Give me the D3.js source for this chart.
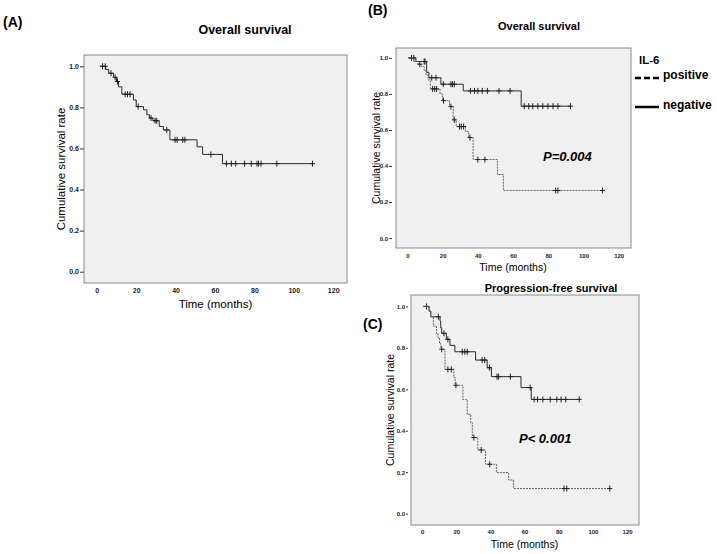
<!DOCTYPE html>
<html>
<head>
<meta charset="utf-8">
<script src="https://cdn.jsdelivr.net/npm/d3@7"></script>
<style>
  body { margin: 0; background: #fff; }
  svg text { font-family: Arial, "Liberation Sans", sans-serif; }
</style>
</head>
<body>
<svg id="chart" width="717" height="554"></svg>
<script>
// Panel A - overall survival, all patients
const timeA = [1.5, 4.5, 6, 8.5, 10, 11, 12.7, 18.6, 20, 23.7, 25.4, 26.7, 28.5, 31.7, 33.8, 37.1, 50.9, 53.7, 63.8];
const survA = [1, 0.985, 0.966, 0.946, 0.926, 0.90, 0.864, 0.836, 0.804, 0.788, 0.764, 0.748, 0.735, 0.707, 0.69, 0.642, 0.608, 0.571, 0.526];
const endA = 109.5;
const censorA = [2.9, 4.3, 7.2, 9.3, 10.5, 14.4, 15.6, 16.9, 21, 27.5, 29.6, 30.4, 35.5, 39.7, 40.8, 43.6, 44.7, 57.9, 65.8, 68.3, 70.5, 75, 78.4, 81.3, 82.1, 83.4, 91.4, 109.5];

// Panel B - overall survival by IL-6
const timeBneg = [0.4, 4.8, 10.9, 12.2, 19, 31.7, 64.6];
const survBneg = [1, 0.98, 0.92, 0.89, 0.854, 0.817, 0.732];
const endBneg = 92.6;
const censorBneg = [2.3, 3.6, 9.5, 10, 13.8, 16.2, 20.4, 24.7, 25.6, 26.6, 35.8, 38.1, 40, 42.5, 45.4, 52, 58.3, 66.4, 68.9, 71.2, 74.1, 76.9, 79.8, 82.7, 85.5, 92.6];

const timeBpos = [0.4, 3.6, 6, 8, 9.5, 10.5, 11.8, 13, 18.5, 20, 23.9, 26, 27.7, 32.9, 34.8, 37.3, 51.1, 54.5];
const survBpos = [1, 0.98, 0.965, 0.952, 0.93, 0.906, 0.878, 0.828, 0.80, 0.763, 0.73, 0.656, 0.619, 0.591, 0.558, 0.436, 0.353, 0.264];
const endBpos = 110.8;
const censorBpos = [7, 14.3, 15.5, 16.6, 20.5, 24.7, 26.6, 29.6, 30.6, 31.9, 35.5, 40, 44, 84.2, 85.5, 110.8];

// Panel C - progression-free survival by IL-6
const timeCneg = [0.6, 4.1, 5.1, 10.5, 10.9, 11.5, 14.2, 16.3, 19.2, 31.3, 38.1, 40.6, 57.9, 63.9];
const survCneg = [1, 0.977, 0.95, 0.929, 0.897, 0.87, 0.841, 0.812, 0.781, 0.741, 0.704, 0.661, 0.608, 0.551];
const endCneg = 92;
const censorCneg = [2.6, 9.5, 12.8, 15.1, 23.5, 25, 26.4, 35.2, 36.7, 39.4, 43.9, 44.8, 51.7, 63.3, 65.6, 67.6, 70.7, 75, 78.9, 81.4, 84.1, 92];

const timeCpos = [0.6, 4.1, 5.1, 6.6, 8.4, 9.3, 10.2, 11, 13.4, 18.6, 19.4, 23.9, 26.4, 28.4, 29.4, 32.6, 37.1, 43.5, 50.7, 53.6];
const survCpos = [1, 0.977, 0.95, 0.905, 0.87, 0.85, 0.82, 0.793, 0.696, 0.656, 0.619, 0.55, 0.479, 0.439, 0.367, 0.307, 0.238, 0.198, 0.162, 0.121];
const endCpos = 109.9;
const censorCpos = [11.5, 15.1, 17.1, 19.8, 30.3, 34.6, 39.6, 83.1, 84.7, 109.9];

const xTicks = [0, 20, 40, 60, 80, 100, 120];
const yTicks = [0, 0.2, 0.4, 0.6, 0.8, 1.0];

const svg = d3.select('#chart');

function stepValue(times, surv, t) {
    let s = surv[0];
    for (let i = 0; i < times.length; i++) {
        if (times[i] <= t) s = surv[i];
    }
    return s;
}

function drawPanel(p) {
    const x = d3.scaleLinear().domain([-6.5, 127]).range([p.left, p.right]);
    const y = d3.scaleLinear().domain([-0.055, 1.055]).range([p.bottom, p.top]);

    svg.append('rect')
        .attr('x', p.left).attr('y', p.top)
        .attr('width', p.right - p.left).attr('height', p.bottom - p.top)
        .attr('fill', '#f0f0f0')
        .attr('stroke', '#8a8a8a')
        .attr('stroke-width', 1);

    // y axis
    const ya = svg.append('g')
        .attr('transform', `translate(${p.yAxisX},0)`)
        .call(d3.axisLeft(y).tickValues(yTicks).tickFormat(d3.format('.1f')).tickSize(p.yTick).tickPadding(1));
    ya.select('.domain').remove();
    ya.selectAll('line').attr('stroke', '#333');
    ya.selectAll('text').attr('font-size', p.tickFs).attr('font-weight', 'bold').attr('fill', '#222');

    // x axis
    const xa = svg.append('g')
        .attr('transform', `translate(0,${p.bottom})`)
        .call(d3.axisBottom(x).tickValues(xTicks).tickSize(0).tickPadding(p.xPad));
    xa.select('.domain').remove();
    xa.selectAll('text').attr('font-size', p.tickFs).attr('font-weight', 'bold').attr('fill', '#222');

    const line = d3.line()
        .x(d => x(d[0]))
        .y(d => y(d[1]))
        .curve(d3.curveStepAfter);

    p.curves.forEach(c => {
        const pts = c.times.map((t, i) => [t, c.surv[i]]);
        pts.push([c.end, c.surv[c.surv.length - 1]]);
        svg.append('path')
            .attr('d', line(pts))
            .attr('fill', 'none')
            .attr('stroke', c.dashed ? '#666' : '#2a2a2a')
            .attr('stroke-width', 1)
            .attr('stroke-dasharray', c.dashed ? '2,1' : null);

        const cg = svg.append('g');
        c.censor.forEach(t => {
            const cx = x(t), cy = y(stepValue(c.times, c.surv, t));
            cg.append('line').attr('x1', cx).attr('x2', cx).attr('y1', cy - 3).attr('y2', cy + 3)
                .attr('stroke', '#222').attr('stroke-width', 1);
            cg.append('line').attr('x1', cx - 2.5).attr('x2', cx + 2.5).attr('y1', cy).attr('y2', cy)
                .attr('stroke', '#222').attr('stroke-width', 1);
        });
    });

    svg.append('text')
        .attr('x', p.titleX).attr('y', p.titleY)
        .attr('text-anchor', 'middle')
        .attr('font-size', p.titleFs).attr('font-weight', 'bold')
        .text(p.title);

    svg.append('text')
        .attr('x', p.xLabelX).attr('y', p.xLabelY)
        .attr('text-anchor', 'middle')
        .attr('font-size', p.labelFs)
        .text('Time (months)');

    svg.append('text')
        .attr('transform', `translate(${p.yLabelX},${(p.top + p.bottom) / 2}) rotate(-90)`)
        .attr('text-anchor', 'middle')
        .attr('font-size', p.labelFs)
        .text('Cumulative survival rate');

    svg.append('text')
        .attr('x', p.tagX).attr('y', p.tagY)
        .attr('font-size', 14).attr('font-weight', 'bold')
        .text(p.tag);
}

drawPanel({
    left: 84, right: 347, top: 55, bottom: 283,
    yAxisX: 84, yTick: 4, tickFs: 7, xPad: 5.5,
    title: 'Overall survival', titleX: 245, titleY: 34, titleFs: 12.5,
    xLabelX: 215.5, xLabelY: 308, yLabelX: 65, labelFs: 11.5,
    tag: '(A)', tagX: 3, tagY: 27,
    curves: [{ times: timeA, surv: survA, end: endA, censor: censorA, dashed: false }]
});

drawPanel({
    left: 396, right: 631, top: 48, bottom: 248,
    yAxisX: 392, yTick: 3, tickFs: 6, xPad: 5.5,
    title: 'Overall survival', titleX: 539, titleY: 30, titleFs: 11,
    xLabelX: 513, xLabelY: 271, yLabelX: 380, labelFs: 10.5,
    tag: '(B)', tagX: 368, tagY: 15,
    curves: [
        { times: timeBneg, surv: survBneg, end: endBneg, censor: censorBneg, dashed: false },
        { times: timeBpos, surv: survBpos, end: endBpos, censor: censorBpos, dashed: true }
    ]
});

drawPanel({
    left: 411, right: 639, top: 295, bottom: 525,
    yAxisX: 408, yTick: 2, tickFs: 6, xPad: 5.2,
    title: 'Progression-free survival', titleX: 551, titleY: 292, titleFs: 11,
    xLabelX: 524.5, xLabelY: 548, yLabelX: 393.5, labelFs: 10.5,
    tag: '(C)', tagX: 363, tagY: 329,
    curves: [
        { times: timeCneg, surv: survCneg, end: endCneg, censor: censorCneg, dashed: false },
        { times: timeCpos, surv: survCpos, end: endCpos, censor: censorCpos, dashed: true }
    ]
});

// p-values
svg.append('text').attr('x', 543).attr('y', 160.5)
    .attr('font-size', 13).attr('font-weight', 'bold').attr('font-style', 'italic')
    .text('P=0.004');
svg.append('text').attr('x', 519).attr('y', 442.5)
    .attr('font-size', 13).attr('font-weight', 'bold').attr('font-style', 'italic')
    .text('P< 0.001');

// legend
const legend = svg.append('g');
legend.append('text').attr('x', 639).attr('y', 63.5)
    .attr('font-size', 11.5).attr('font-weight', 'bold').text('IL-6');
legend.append('line').attr('x1', 635).attr('x2', 659).attr('y1', 78).attr('y2', 78)
    .attr('stroke', '#000').attr('stroke-width', 2.5).attr('stroke-dasharray', '6,3');
legend.append('text').attr('x', 663).attr('y', 79)
    .attr('font-size', 12).attr('font-weight', 'bold').text('positive');
legend.append('line').attr('x1', 635).attr('x2', 659).attr('y1', 107).attr('y2', 107)
    .attr('stroke', '#000').attr('stroke-width', 2.5);
legend.append('text').attr('x', 663).attr('y', 108.5)
    .attr('font-size', 12).attr('font-weight', 'bold').text('negative');
</script>
</body>
</html>
